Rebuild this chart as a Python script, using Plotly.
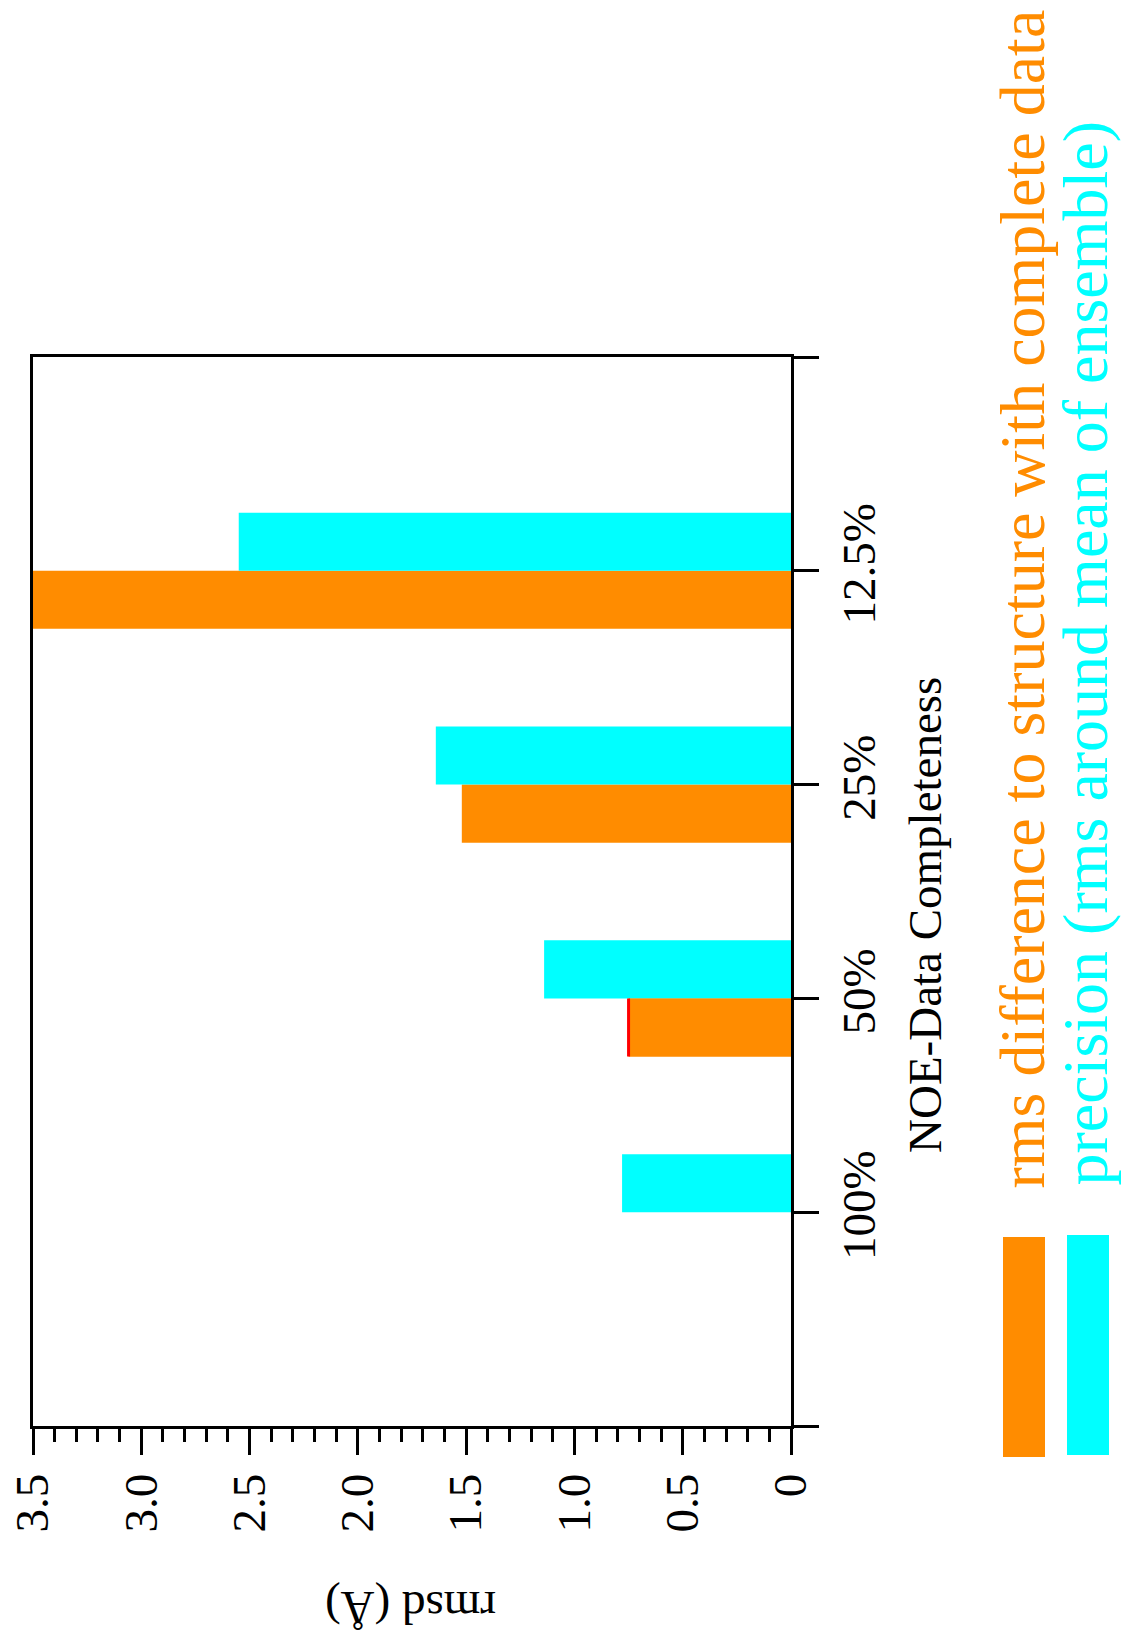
import plotly.graph_objects as go

# NOE data completeness levels (category axis)
categories = ["100%", "50%", "25%", "12.5%"]
# rms difference to the structure calculated with complete data (Å)
rms_difference = [0.0, 0.75, 1.52, 3.52]
# precision: rms around the mean of the ensemble (Å)
precision = [0.78, 1.14, 1.64, 2.55]

value_ticks = [0, 0.5, 1.0, 1.5, 2.0, 2.5, 3.0, 3.5]
value_ticktext = ["0", "0.5", "1.0", "1.5", "2.0", "2.5", "3.0", "3.5"]

label_rms = "rms difference to structure with complete data"
label_prec = "precision (rms around mean of ensemble)"

ORANGE = "#FF8C00"
CYAN = "#00FFFF"
FONT = "Liberation Serif"

W, H = 1123, 1637
L, R, T, B = 33, 332, 357, 211
PW, PH = W - L - R, H - T - B


def px(x, y):
    """Convert page pixels to paper coordinates."""
    return (x - L) / PW, (H - B - y) / PH


pos = list(range(len(categories)))

fig = go.Figure()
fig.add_trace(go.Bar(
    y=pos, x=rms_difference, orientation="h", name=label_rms,
    marker=dict(color=ORANGE, line=dict(width=0)), offsetgroup="rms",
))
fig.add_trace(go.Bar(
    y=pos, x=precision, orientation="h", name=label_prec,
    marker=dict(color=CYAN, line=dict(width=0)), offsetgroup="prec",
))
# red marker at the end of the 50% rms-difference bar
fig.add_trace(go.Bar(
    y=[pos[1]], x=[rms_difference[1]], orientation="h", showlegend=False,
    marker=dict(color=ORANGE, line=dict(width=0)), offsetgroup="rms",
    error_x=dict(type="data", array=[0], color="red", thickness=3, width=29),
    hoverinfo="skip",
))

fig.update_layout(
    template="none",
    width=W, height=H, autosize=False,
    margin=dict(l=L, r=R, t=T, b=B, pad=0),
    paper_bgcolor="white", plot_bgcolor="white",
    barmode="group", bargap=0.457, bargroupgap=0,
    showlegend=False,
    font=dict(family=FONT, color="black", size=47),
)

fig.update_xaxes(
    range=[3.5, 0], side="bottom", automargin=False,
    showline=True, linewidth=3, linecolor="black", mirror=True,
    showgrid=False, zeroline=False,
    ticks="outside", ticklen=26, tickwidth=3, tickcolor="black",
    tickvals=value_ticks, ticktext=value_ticktext, tickangle=-90,
    tickfont=dict(family=FONT, size=47, color="black"),
    minor=dict(ticks="outside", ticklen=13, tickwidth=2.5, tickcolor="black",
               dtick=0.1, tick0=0, showgrid=False),
)
fig.update_yaxes(
    range=[-1, len(categories)], side="right", automargin=False,
    showline=True, linewidth=3, linecolor="black", mirror=True,
    showgrid=False, zeroline=False,
    ticks="outside", ticklen=25, tickwidth=3, tickcolor="black",
    tickvals=[-1] + pos + [len(categories)],
    ticktext=[""] + categories + [""], tickangle=-90,
    tickfont=dict(family=FONT, size=47, color="black"),
)

# axis titles
x, y = px(925, 915)
fig.add_annotation(x=x, y=y, xref="paper", yref="paper", text="NOE-Data Completeness",
                   textangle=-90, showarrow=False, xanchor="center", yanchor="middle",
                   font=dict(family=FONT, size=47, color="black"))
x, y = px(411, 1608)
fig.add_annotation(x=x, y=y, xref="paper", yref="paper", text="rmsd (Å)",
                   textangle=180, showarrow=False, xanchor="center", yanchor="middle",
                   font=dict(family=FONT, size=47, color="black"))

# legend: colour swatches with rotated labels
for (x0, y0, x1, y1), col in [((1003, 1237, 1045, 1457), ORANGE),
                              ((1067, 1235, 1109, 1455), CYAN)]:
    a0, b0 = px(x0, y1)
    a1, b1 = px(x1, y0)
    fig.add_shape(type="rect", xref="paper", yref="paper", x0=a0, y0=b0, x1=a1, y1=b1,
                  fillcolor=col, line=dict(width=0))

for text, col, cx, by in [(label_rms, ORANGE, 1022, 1190), (label_prec, CYAN, 1085, 1188)]:
    x, y = px(cx, by)
    fig.add_annotation(x=x, y=y, xref="paper", yref="paper", text=text,
                       textangle=-90, showarrow=False, xanchor="center", yanchor="bottom",
                       font=dict(family=FONT, size=64, color=col))

fig.write_html("out.html")
